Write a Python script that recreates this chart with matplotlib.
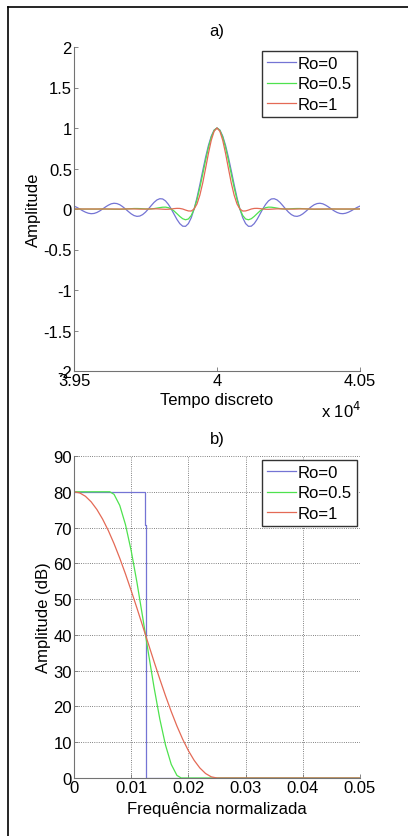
# pulsos de cosseno elevado: tempo discreto e resposta em frequencia

import matplotlib.pyplot as plt
import numpy as np

plt.rcParams['font.family'] = ['Liberation Sans', 'DejaVu Sans']

# ---- a) tempo discreto (amostras de 39500 a 40500, passo 10) ----
tempo = np.arange(39500, 40501, 10)

ro0 = [0.036, 0.020, 0.000, -0.021, -0.039, -0.052, -0.058, -0.055, -0.043, -0.024,
       0.000, 0.025, 0.047, 0.064, 0.071, 0.067, 0.053, 0.029, 0.000, -0.031,
       -0.060, -0.081, -0.091, -0.087, -0.069, -0.039, 0.000, 0.042, 0.082, 0.112,
       0.127, 0.124, 0.100, 0.057, 0.000, -0.065, -0.129, -0.181, -0.212, -0.214,
       -0.180, -0.108, 0.000, 0.139, 0.300, 0.471, 0.637, 0.784, 0.900, 0.975,
       1.000,
       0.975, 0.900, 0.784, 0.637, 0.471, 0.300, 0.139, 0.000, -0.108, -0.180,
       -0.214, -0.212, -0.181, -0.129, -0.065, 0.000, 0.057, 0.100, 0.124, 0.127,
       0.112, 0.082, 0.042, 0.000, -0.039, -0.069, -0.087, -0.091, -0.081, -0.060,
       -0.031, 0.000, 0.029, 0.053, 0.067, 0.071, 0.064, 0.047, 0.025, 0.000,
       -0.024, -0.043, -0.055, -0.058, -0.052, -0.039, -0.021, 0.000, 0.020, 0.036]

ro05 = [0.001, 0.000, 0.000, -0.001, -0.001, -0.001, -0.001, -0.001, -0.001, 0.000,
        0.000, 0.000, -0.001, -0.002, -0.003, -0.003, -0.003, -0.002, 0.000, 0.002,
        0.004, 0.006, 0.006, 0.005, 0.003, 0.001, 0.000, 0.001, 0.005, 0.011,
        0.017, 0.022, 0.023, 0.016, 0.000, -0.025, -0.058, -0.092, -0.120, -0.133,
        -0.123, -0.080, 0.000, 0.116, 0.263, 0.429, 0.600, 0.759, 0.887, 0.971,
        1.000,
        0.971, 0.887, 0.759, 0.600, 0.429, 0.263, 0.116, 0.000, -0.080, -0.123,
        -0.133, -0.120, -0.092, -0.058, -0.025, 0.000, 0.016, 0.023, 0.022, 0.017,
        0.011, 0.005, 0.001, 0.000, 0.001, 0.003, 0.005, 0.006, 0.006, 0.004,
        0.002, 0.000, -0.002, -0.003, -0.003, -0.003, -0.002, -0.001, 0.000, 0.000,
        0.000, -0.001, -0.001, -0.001, -0.001, -0.001, -0.001, 0.000, 0.000, 0.001]

ro1 = [0.000, 0.000, 0.000, 0.000, 0.000, 0.000, 0.000, 0.000, 0.000, 0.000,
       0.000, 0.000, 0.000, 0.000, 0.000, 0.000, -0.001, 0.000, 0.000, 0.001,
       0.001, 0.001, 0.000, -0.001, -0.001, -0.001, 0.000, 0.001, 0.002, 0.002,
       0.000, -0.002, -0.004, -0.003, 0.000, 0.005, 0.008, 0.007, 0.000, -0.013,
       -0.024, -0.025, 0.000, 0.062, 0.170, 0.320, 0.500, 0.686, 0.849, 0.960,
       1.000,
       0.960, 0.849, 0.686, 0.500, 0.320, 0.170, 0.062, 0.000, -0.025, -0.024,
       -0.013, 0.000, 0.007, 0.008, 0.005, 0.000, -0.003, -0.004, -0.002, 0.000,
       0.002, 0.002, 0.001, 0.000, -0.001, -0.001, -0.001, 0.000, 0.001, 0.001,
       0.001, 0.000, 0.000, -0.001, 0.000, 0.000, 0.000, 0.000, 0.000, 0.000,
       0.000, 0.000, 0.000, 0.000, 0.000, 0.000, 0.000, 0.000, 0.000, 0.000]

# ---- b) resposta em frequencia ----
freq_ro0 = [0, 0.0124, 0.0124, 0.0126, 0.0126, 0.05]
db_ro0 = [80, 80, 70.7, 70.7, 0, 0]

freq_ro05 = [0, 0.00625, 0.007, 0.008, 0.009, 0.010, 0.011, 0.012, 0.013,
             0.014, 0.015, 0.016, 0.017, 0.018, 0.01875, 0.05]
db_ro05 = [80, 80, 79.29, 76.19, 70.82, 63.51, 54.72, 45.01, 34.99,
           25.28, 16.49, 9.18, 3.81, 0.71, 0, 0]

freq_ro1 = [0, 0.001, 0.002, 0.003, 0.004, 0.005, 0.006, 0.007, 0.008, 0.009,
            0.010, 0.011, 0.012, 0.013, 0.014, 0.015, 0.016, 0.017, 0.018,
            0.019, 0.020, 0.021, 0.022, 0.023, 0.024, 0.025, 0.05]
db_ro1 = [80, 79.68, 78.74, 77.19, 75.05, 72.36, 69.16, 65.50, 61.43, 57.03,
          52.36, 47.50, 42.51, 37.49, 32.50, 27.64, 22.97, 18.57, 14.50,
          10.84, 7.64, 4.95, 2.81, 1.26, 0.32, 0, 0]

labels = ["Ro=0", "Ro=0.5", "Ro=1"]
cores = ["#7474d4", "#4ee24e", "#e46a56"]
fs = 12

fig = plt.figure(figsize=(4.08, 8.37), dpi=100)

# moldura (so esquerda e topo aparecem)
fig.add_artist(plt.Line2D([7.5 / 408, 7.5 / 408], [0, 1 - 7.5 / 837], color="k", lw=1.2))
fig.add_artist(plt.Line2D([7.5 / 408, 1], [1 - 7.5 / 837, 1 - 7.5 / 837], color="k", lw=1.2))


def estilo(ax):
    for s in ["top", "right"]:
        ax.spines[s].set_visible(False)
    for s in ["left", "bottom"]:
        ax.spines[s].set_color("0.45")
        ax.spines[s].set_linewidth(0.8)
    ax.tick_params(direction="in", length=3, width=0.6, color="0.45",
                   labelsize=fs, pad=1.5)


def legenda(ax):
    ax.legend(loc="upper right", bbox_to_anchor=(0.988, 0.988), fontsize=fs,
              fancybox=False, edgecolor="0.2", framealpha=1, handlelength=1.7,
              handletextpad=0.1, borderpad=0.3, labelspacing=0.33,
              borderaxespad=0)


# a)
ax1 = fig.add_axes([74 / 408, 1 - 372 / 837, 286 / 408, 324 / 837])
for y, lab, c in zip([ro0, ro05, ro1], labels, cores):
    ax1.plot(tempo, y, color=c, lw=0.9, label=lab)
ax1.set_xlim(39500, 40500)
ax1.set_ylim(-2, 2)
ax1.set_xticks([39500, 40000, 40500])
ax1.set_xticklabels(["3.95", "4", "4.05"])
ax1.set_yticks(np.arange(-2, 2.01, 0.5))
ax1.set_yticklabels(["-2", "-1.5", "-1", "-0.5", "0", "0.5", "1", "1.5", "2"])
estilo(ax1)
ax1.set_title("a)", fontsize=fs, pad=8.5)
ax1.set_xlabel("Tempo discreto", fontsize=fs, labelpad=3)
ax1.set_ylabel("Amplitude", fontsize=fs, labelpad=2)
fig.text(321 / 408, 1 - 411 / 837, "x 10$^4$", fontsize=fs, va="center")
legenda(ax1)

# b)
ax2 = fig.add_axes([74 / 408, 1 - 779 / 837, 286 / 408, 322 / 837])
for f, d, lab, c in zip([freq_ro0, freq_ro05, freq_ro1], [db_ro0, db_ro05, db_ro1],
                        labels, cores):
    ax2.plot(f, d, color=c, lw=0.9, label=lab)
ax2.set_xlim(0, 0.05)
ax2.set_ylim(0, 90)
ax2.set_xticks([0, 0.01, 0.02, 0.03, 0.04, 0.05])
ax2.set_xticklabels(["0", "0.01", "0.02", "0.03", "0.04", "0.05"])
ax2.set_yticks(np.arange(0, 91, 10))
estilo(ax2)
ax2.grid(True, linestyle=":", color="0.35", linewidth=0.6)
ax2.set_title("b)", fontsize=fs, pad=9.5)
ax2.set_xlabel("Frequência normalizada", fontsize=fs, labelpad=4)
ax2.set_ylabel("Amplitude (dB)", fontsize=fs, labelpad=2)
legenda(ax2)

plt.savefig("out.png", dpi=100)
